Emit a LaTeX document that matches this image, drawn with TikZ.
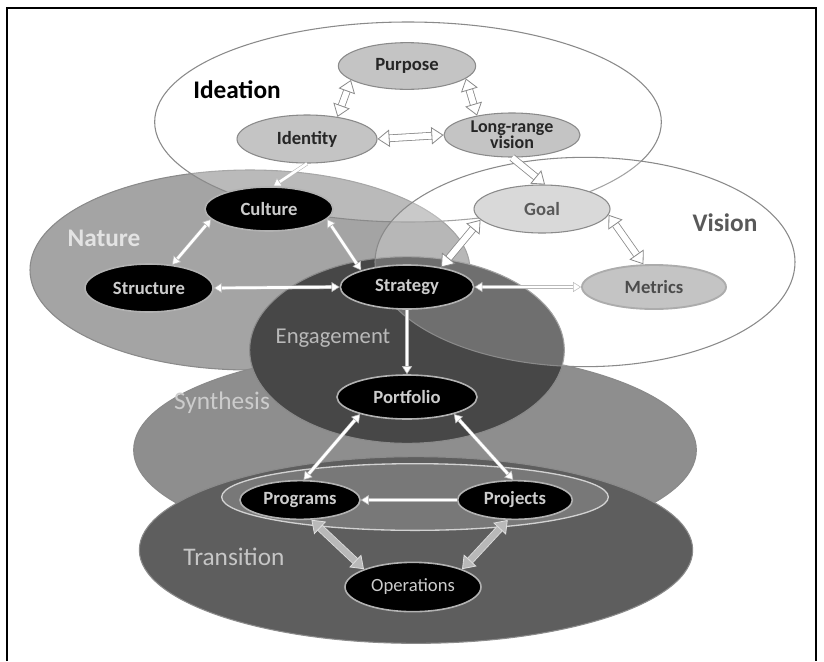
\documentclass[tikz,border=0pt]{standalone}
\usepackage{fontspec}
\setmainfont{Carlito}
\usetikzlibrary{arrows.meta,shapes.geometric}
\definecolor{natureC}{HTML}{A4A4A4}
\definecolor{synthC}{HTML}{8E8E8E}
\definecolor{transC}{HTML}{5E5E5E}
\definecolor{engC}{HTML}{474747}
\definecolor{bandC}{HTML}{787878}
\definecolor{nodeLight}{HTML}{C4C4C4}
\definecolor{edgeC}{HTML}{8A8A8A}
\definecolor{darkText}{HTML}{CCCCCC}
\begin{document}
\begin{tikzpicture}[x=0.75pt,y=-0.75pt,
  region/.style={ellipse, draw=edgeC, line width=0.8pt, inner sep=0pt},
  lightnode/.style={ellipse, draw=edgeC, line width=0.8pt, fill=nodeLight, inner sep=0pt,
    text=black!85, font=\fontsize{14}{13}\selectfont\bfseries, align=center},
  darknode/.style={ellipse, draw=gray!60, line width=1.2pt, fill=black, inner sep=0pt,
    text=darkText, font=\fontsize{14}{15}\selectfont\bfseries, align=center},
  biglabel/.style={font=\fontsize{19}{21}\selectfont\bfseries, inner sep=0pt},
  midlabel/.style={font=\fontsize{19}{21}\selectfont, inner sep=0pt},
  hollow/.style={draw=edgeC, line width=0.6pt, double=white, double distance=4.5pt,
    >={Triangle[length=9pt,width=13pt,fill=white]}},
  hollowdark/.style={draw=gray!25, line width=0.6pt, double=gray!55, double distance=4.5pt,
    >={Triangle[length=9pt,width=13pt,fill=gray!55]}},
  thinwhite/.style={draw=gray!55, line width=0.4pt, double=white, double distance=2pt,
    >={Triangle[length=6pt,width=7.5pt,fill=white]}}
]
\useasboundingbox (0,0) rectangle (824,661);
% frame
\draw[line width=1.6pt] (7,661) -- (7,8) -- (816,8) -- (816,661);

% regions (filled)
\node[region, fill=natureC, minimum width=330pt, minimum height=150pt] (nature) at (250,270) {};
\node[region, fill=synthC, minimum width=422pt, minimum height=150pt] (synth) at (415,450) {};
\node[region, fill=transC, minimum width=415pt, minimum height=140pt] (trans) at (416,550) {};
\node[ellipse, draw=gray!35, line width=1pt, fill=bandC, minimum width=290pt, minimum height=50pt, inner sep=0pt] (band) at (415,497) {};
\node[region, fill=engC, minimum width=236pt, minimum height=140pt] (eng) at (407,350) {};
% white overlay regions
\node[region, fill=white, fill opacity=0.25, minimum width=380pt, minimum height=150pt] (ideation) at (408,122) {};
\node[region, fill=white, fill opacity=0.22, minimum width=315pt, minimum height=157pt] (vision) at (585,262) {};

% region labels
\node[biglabel, text=black] (lIdeation) at (237,90) {Ideation};
\node[biglabel, text=gray!70!black] (lVision) at (725,223) {Vision};
\node[biglabel, text=gray!22] (lNature) at (104,238) {Nature};
\node[midlabel, text=gray!55, font=\fontsize{17}{19}\selectfont] (lEng) at (333,338) {Engagement};
\node[midlabel, text=gray!40] (lSynth) at (222,403) {Synthesis};
\node[midlabel, text=gray!45] (lTrans) at (234,557) {Transition};

% nodes
\node[lightnode, minimum width=103pt, minimum height=35pt] (purpose) at (407,66) {Purpose};
\node[lightnode, minimum width=105pt, minimum height=36pt] (identity) at (307,139) {Identity};
\node[lightnode, minimum width=102pt, minimum height=33pt, font=\fontsize{13.5}{12}\selectfont\bfseries] (lrv) at (512,135) {Long-range\\vision};
\node[lightnode, minimum width=102pt, minimum height=36pt, fill=gray!30, text=black!65] (goal) at (542,209) {Goal};
\node[lightnode, minimum width=108pt, minimum height=33pt, draw=gray!65, line width=1.4pt, text=black!70] (metrics) at (654,287) {Metrics};
\node[darknode, minimum width=96pt, minimum height=33pt] (culture) at (269,209) {Culture};
\node[darknode, minimum width=96pt, minimum height=36pt] (structure) at (149,288) {Structure};
\node[darknode, minimum width=100pt, minimum height=33pt] (strategy) at (407,287) {Strategy};
\node[darknode, minimum width=105pt, minimum height=33pt] (portfolio) at (407,397) {Portfolio};
\node[darknode, minimum width=90pt, minimum height=29pt] (programs) at (300,500) {Programs};
\node[darknode, minimum width=86pt, minimum height=29pt] (projects) at (515,500) {Projects};
\node[darknode, minimum width=102pt, minimum height=37pt, font=\fontsize{14}{15}\selectfont] (operations) at (413,587) {Operations};

% connectors
\draw[hollow,<->] (purpose.194) -- (identity.36);
\draw[hollow,<->] (purpose.348) -- (lrv.151);
\draw[hollow,<->] (identity.east) -- (lrv.west);
\draw[hollow,->] (lrv.south) -- (goal.83);
\draw[thinwhite,->] (identity.south) -- (culture.80);
\draw[thinwhite,<->] (culture.190) -- (structure.45);
\draw[thinwhite,<->] (culture.350) -- (strategy.160);
\draw[thinwhite,<->] (structure.east) -- (strategy.west);
\draw[hollow,<->] (goal.190) -- (strategy.30);
\draw[hollow,<->] (goal.355) -- (metrics.115);
\draw[thinwhite,<->] (strategy.east) -- (metrics.west);
\draw[thinwhite,->] (strategy.south) -- (portfolio.north);
\draw[thinwhite,<->] (portfolio.200) -- (programs.80);
\draw[thinwhite,<->] (portfolio.340) -- (projects.95);
\draw[thinwhite,->] (projects.west) -- (programs.east);
\draw[hollowdark,<->] (programs.300) -- (operations.160);
\draw[hollowdark,<->] (projects.250) -- (operations.20);
\end{tikzpicture}
\end{document}
